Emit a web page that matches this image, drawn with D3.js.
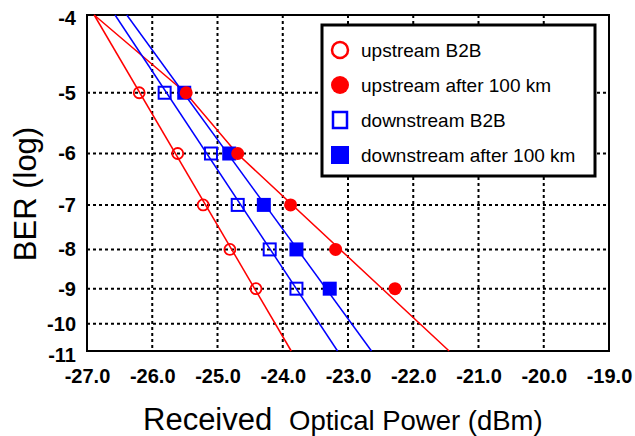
<!DOCTYPE html>
<html>
<head>
<meta charset="utf-8">
<script src="https://cdn.jsdelivr.net/npm/d3@7"></script>
<style>
  body { margin: 0; background: #fff; }
  svg { display: block; font-family: "Liberation Sans", Arial, sans-serif; }
</style>
</head>
<body>
<svg width="635" height="436"></svg>
<script>
// BER exponents of the measured points (10^-5 ... 10^-9)
var berExp = [-5, -6, -7, -8, -9];

// received optical power (dBm) for each series
var upB2B = [-26.20, -25.61, -25.22, -24.81, -24.41];
var upAfter = [-25.48, -24.69, -23.88, -23.19, -22.28];
var downB2B = [-25.81, -25.10, -24.69, -24.20, -23.79];
var downAfter = [-25.51, -24.82, -24.29, -23.79, -23.28];

// guide lines [power, exponent], running from the top to the bottom of the frame
var upB2BFit = [[-26.89, -3.96], [-23.87, -10.85]];
var upAfterFit = [[-26.89, -3.96], [-25.49, -5], [-24.70, -6], [-21.45, -10.85]];
var downB2BFit = [[-26.57, -3.96], [-23.16, -10.85]];
var downAfterFit = [[-26.39, -3.96], [-22.64, -10.85]];

// axes
var xTicks = [-27, -26, -25, -24, -23, -22, -21, -20, -19];
var xGrid = [-26, -25, -24, -23, -22, -21, -20];
var yTicks = [-4, -5, -6, -7, -8, -9, -10, -11];
var yGrid = [-5, -6, -7, -8, -9, -10];
var yExtent = [-3.96, -10.85];

var legendLabels = ["upstream B2B", "upstream after 100 km", "downstream B2B", "downstream after 100 km"];

var svg = d3.select("svg"),
  margin = { top: 15, right: 26, bottom: 85, left: 87 },
  width = +svg.attr("width") - margin.left - margin.right,
  height = +svg.attr("height") - margin.top - margin.bottom,
  g = svg.append("g").attr("transform", "translate(" + margin.left + "," + margin.top + ")");

var red = "#ff0000", blue = "#0000ff";

var x = d3.scaleLinear().domain([-27, -19]).range([0, width]);

// BER axis: log of -log10(BER)
var yLog = d3.scaleLog().domain([-yExtent[0], -yExtent[1]]).range([0, height]);
var y = function(e) { return yLog(-e); };

// grid
g.append("g").selectAll("line")
  .data(xGrid)
  .enter().append("line")
  .attr("x1", function(d) { return x(d); })
  .attr("x2", function(d) { return x(d); })
  .attr("y1", 0)
  .attr("y2", height)
  .attr("stroke", "#000")
  .attr("stroke-width", 2)
  .attr("stroke-dasharray", "3,3");

g.append("g").selectAll("line")
  .data(yGrid)
  .enter().append("line")
  .attr("x1", 0)
  .attr("x2", width)
  .attr("y1", function(d) { return y(d); })
  .attr("y2", function(d) { return y(d); })
  .attr("stroke", "#000")
  .attr("stroke-width", 2)
  .attr("stroke-dasharray", "3,3");

// frame
g.append("rect")
  .attr("width", width)
  .attr("height", height)
  .attr("fill", "none")
  .attr("stroke", "#000")
  .attr("stroke-width", 2);

// x axis labels
var xAxis = g.append("g")
  .attr("transform", "translate(0," + height + ")")
  .call(d3.axisBottom(x).tickValues(xTicks).tickSize(0).tickPadding(18)
    .tickFormat(function(d) { return d.toFixed(1); }));
xAxis.select(".domain").remove();
xAxis.selectAll("text")
  .attr("font-size", 20)
  .attr("font-weight", "bold")
  .attr("font-family", "Liberation Sans, Arial, sans-serif")
  .attr("fill", "#000");

// y axis labels
var yAxis = g.append("g")
  .call(d3.axisLeft(yLog).tickValues(yTicks.map(function(d) { return -d; })).tickSize(0).tickPadding(11)
    .tickFormat(function(d) { return "-" + d; }));
yAxis.select(".domain").remove();
yAxis.selectAll("text")
  .attr("font-size", 20)
  .attr("font-weight", "bold")
  .attr("font-family", "Liberation Sans, Arial, sans-serif")
  .attr("fill", "#000");

// guide lines
var line = d3.line()
  .x(function(d) { return x(d[0]); })
  .y(function(d) { return y(d[1]); });

var fits = [
  { pts: upB2BFit, color: red },
  { pts: upAfterFit, color: red },
  { pts: downB2BFit, color: blue },
  { pts: downAfterFit, color: blue }
];

g.append("g").selectAll("path")
  .data(fits)
  .enter().append("path")
  .attr("d", function(d) { return line(d.pts); })
  .attr("fill", "none")
  .attr("stroke", function(d) { return d.color; })
  .attr("stroke-width", 1.5);

function pairs(powers) {
  return powers.map(function(p, i) { return { p: p, e: berExp[i] }; });
}

// upstream B2B: open circles
g.append("g").selectAll("circle")
  .data(pairs(upB2B))
  .enter().append("circle")
  .attr("cx", function(d) { return x(d.p); })
  .attr("cy", function(d) { return y(d.e); })
  .attr("r", 5.5)
  .attr("fill", "none")
  .attr("stroke", red)
  .attr("stroke-width", 1.8);

// downstream B2B: open squares
g.append("g").selectAll("rect")
  .data(pairs(downB2B))
  .enter().append("rect")
  .attr("x", function(d) { return x(d.p) - 6; })
  .attr("y", function(d) { return y(d.e) - 6; })
  .attr("width", 12)
  .attr("height", 12)
  .attr("fill", "none")
  .attr("stroke", blue)
  .attr("stroke-width", 2);

// downstream after 100 km: filled squares
g.append("g").selectAll("rect")
  .data(pairs(downAfter))
  .enter().append("rect")
  .attr("x", function(d) { return x(d.p) - 7; })
  .attr("y", function(d) { return y(d.e) - 7; })
  .attr("width", 14)
  .attr("height", 14)
  .attr("fill", blue);

// upstream after 100 km: filled circles
g.append("g").selectAll("circle")
  .data(pairs(upAfter))
  .enter().append("circle")
  .attr("cx", function(d) { return x(d.p); })
  .attr("cy", function(d) { return y(d.e); })
  .attr("r", 6.5)
  .attr("fill", red);

// legend
var legend = svg.append("g").attr("transform", "translate(322,25)");

legend.append("rect")
  .attr("width", 273)
  .attr("height", 151)
  .attr("fill", "#fff")
  .attr("stroke", "#000")
  .attr("stroke-width", 3);

var item = legend.selectAll(".item")
  .data(legendLabels)
  .enter().append("g")
  .attr("class", "item")
  .attr("transform", function(d, i) { return "translate(18," + (25 + i * 35) + ")"; });

item.append("text")
  .attr("x", 21)
  .attr("dy", "0.35em")
  .attr("font-size", 19)
  .attr("fill", "#000")
  .text(function(d) { return d; });

item.filter(function(d, i) { return i === 0; }).append("circle")
  .attr("r", 8).attr("fill", "none").attr("stroke", red).attr("stroke-width", 2.5);
item.filter(function(d, i) { return i === 1; }).append("circle")
  .attr("r", 9).attr("fill", red);
item.filter(function(d, i) { return i === 2; }).append("rect")
  .attr("x", -7).attr("y", -8).attr("width", 14).attr("height", 16)
  .attr("fill", "none").attr("stroke", blue).attr("stroke-width", 2.5);
item.filter(function(d, i) { return i === 3; }).append("rect")
  .attr("x", -9).attr("y", -9).attr("width", 18).attr("height", 18)
  .attr("fill", blue);

// axis titles
svg.append("text")
  .attr("transform", "translate(36,194) rotate(-90)")
  .attr("text-anchor", "middle")
  .attr("font-size", 31)
  .attr("fill", "#000")
  .text("BER (log)");

svg.append("text")
  .attr("x", 143)
  .attr("y", 430)
  .attr("font-size", 31)
  .attr("fill", "#000")
  .text("Received");

svg.append("text")
  .attr("x", 289)
  .attr("y", 430)
  .attr("font-size", 27.5)
  .attr("fill", "#000")
  .text("Optical Power (dBm)");
</script>
</body>
</html>
